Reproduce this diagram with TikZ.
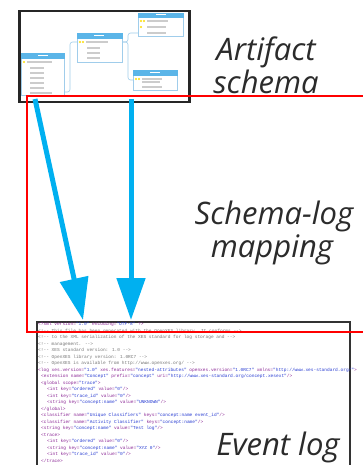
\documentclass[tikz,border=0pt]{standalone}
\usepackage{fontspec}
\usetikzlibrary{arrows.meta}
\newfontfamily\labelfont{Open Sans}
\newfontfamily\xmlfont{Liberation Mono}

\definecolor{flowblue}{RGB}{0,176,240}
\definecolor{tablehead}{RGB}{91,181,232}
\definecolor{tableline}{RGB}{160,205,235}
\definecolor{labelgray}{RGB}{43,43,43}
\definecolor{xmltag}{RGB}{140,40,150}
\definecolor{xmlval}{RGB}{40,60,210}
\definecolor{xmlcom}{RGB}{120,120,120}

\newcommand{\xtag}[1]{\textcolor{xmltag}{#1}}
\newcommand{\xval}[1]{\textcolor{xmlval}{#1}}
\newcommand{\xcom}[1]{\textcolor{xmlcom}{#1}}

\begin{document}
\begin{tikzpicture}[x=1pt,y=-1pt,
  lbl/.style={anchor=base,inner sep=0pt,text=labelgray,font=\labelfont\itshape\fontsize{31}{33}\selectfont},
  xmlline/.style={anchor=base west,inner sep=0pt,font=\xmlfont\fontsize{4.5}{6.5}\selectfont},
  headbox/.style={fill=tablehead,draw=tablehead,line width=0.4},
  bodybox/.style={fill=white,draw=tableline,line width=0.5},
  rowtext/.style={gray!40,line width=1.1},
  keyicon/.style={fill=yellow!80!orange,draw=none},
  link/.style={tableline,line width=0.6,rounded corners=2.5},
  flow/.style={flowblue,line width=5,-{Triangle[length=42pt,width=28pt]}}]
\useasboundingbox (0,0) rectangle (363,465);
%\draw [help lines,black!20!white] (0,0) grid[step=20] (363,465);

% artifact schema (thumbnail)
\node[draw=black!85,line width=2.5,fill=white,minimum width=170,minimum height=91,inner sep=0pt,anchor=north west] (schema) at (18,10) {};

\draw[link] (64,92) -| (70,42) -- (77,42);
\draw[link] (122,42) -| (128,33) -- (138,33);
\draw[link] (122,42) -| (128,80) -- (133,80);

% table A
\draw[bodybox] (21,58) rectangle (64,95);
\draw[headbox] (21,53) rectangle (64,58);
\draw[white,line width=1] (38,55.5) -- (48,55.5);
\fill[keyicon] (24,62) circle (1.2);
\draw[rowtext] (27,62) -- (52,62);
\foreach \y in {68,73,78,83,88} \draw[rowtext] (30,\y) -- (44,\y);
\draw[rowtext] (30,93) -- (52,93);

% table B
\draw[bodybox] (77,38) rectangle (122,62);
\draw[headbox] (77,33) rectangle (122,38);
\draw[white,line width=1] (94,35.5) -- (104,35.5);
\fill[keyicon] (80,42) circle (1.2);
\fill[keyicon] (83,42) circle (1.2);
\draw[rowtext] (86,42) -- (108,42);
\foreach \y in {48,53,58} \draw[rowtext] (87,\y) -- (100,\y);

% table C
\draw[bodybox] (138,17) rectangle (183,36);
\draw[headbox] (138,13) rectangle (183,17);
\draw[white,line width=1] (156,15) -- (166,15);
\fill[keyicon] (141,21) circle (1.2);
\fill[keyicon] (144,21) circle (1.2);
\draw[rowtext] (147,21) -- (168,21);
\fill[keyicon] (141,27) circle (1.2);
\draw[rowtext] (147,27) -- (166,27);
\draw[rowtext] (147,33) -- (166,33);

% table D
\draw[bodybox] (133,75) rectangle (177,90);
\draw[headbox] (133,70) rectangle (177,75);
\draw[white,line width=1] (150,72.5) -- (160,72.5);
\fill[keyicon] (136,79) circle (1.2);
\fill[keyicon] (139,79) circle (1.2);
\draw[rowtext] (142,79) -- (162,79);
\draw[rowtext] (142,82) -- (160,82);
\draw[rowtext] (142,87) -- (162,87);

% event log (XES file)
\node[draw=black!80,line width=2,fill=white,minimum width=313,minimum height=170,inner sep=0pt,anchor=north west] (evlog) at (36,321) {};

\node[xmlline] (x1) at (38,325.5) {\xtag{<?xml version=}\xval{"1.0"} \xtag{encoding=}\xval{"UTF-8"} \xtag{?>}};
\node[xmlline] (x2) at (38,332) {\xcom{<!-{}- This file has been generated with the OpenXES library. It conforms -{}->}};
\node[xmlline] (x3) at (38,338.5) {\xcom{<!-{}- to the XML serialization of the XES standard for log storage and -{}->}};
\node[xmlline] (x4) at (38,345) {\xcom{<!-{}- management. -{}->}};
\node[xmlline] (x5) at (38,351.5) {\xcom{<!-{}- XES standard version: 1.0 -{}->}};
\node[xmlline] (x6) at (38,358) {\xcom{<!-{}- OpenXES library version: 1.0RC7 -{}->}};
\node[xmlline] (x7) at (38,364.5) {\xcom{<!-{}- OpenXES is available from http://www.openxes.org/ -{}->}};
\node[xmlline] (x8) at (38,371) {\xtag{<log xes.version=}\xval{"1.0"} \xtag{xes.features=}\xval{"nested-attributes"} \xtag{openxes.version=}\xval{"1.0RC7"} \xtag{xmlns=}\xval{"http://www.xes-standard.org/"}\xtag{>}};
\node[xmlline] (x9) at (41,377.5) {\xtag{<extension name=}\xval{"Concept"} \xtag{prefix=}\xval{"concept"} \xtag{uri=}\xval{"http://www.xes-standard.org/concept.xesext"}\xtag{/>}};
\node[xmlline] (x10) at (41,384) {\xtag{<global scope=}\xval{"trace"}\xtag{>}};
\node[xmlline] (x11) at (47,390.5) {\xtag{<int key=}\xval{"ordered"} \xtag{value=}\xval{"0"}\xtag{/>}};
\node[xmlline] (x12) at (47,397) {\xtag{<int key=}\xval{"trace\_id"} \xtag{value=}\xval{"0"}\xtag{/>}};
\node[xmlline] (x13) at (47,403.5) {\xtag{<string key=}\xval{"concept:name"} \xtag{value=}\xval{"UNKNOWN"}\xtag{/>}};
\node[xmlline] (x14) at (41,410) {\xtag{</global>}};
\node[xmlline] (x15) at (41,416.5) {\xtag{<classifier name=}\xval{"Unique Classifiers"} \xtag{keys=}\xval{"concept:name event\_id"}\xtag{/>}};
\node[xmlline] (x16) at (41,423) {\xtag{<classifier name=}\xval{"Activity Classifier"} \xtag{keys=}\xval{"concept:name"}\xtag{/>}};
\node[xmlline] (x17) at (41,429.5) {\xtag{<string key=}\xval{"concept:name"} \xtag{value=}\xval{"Test log"}\xtag{/>}};
\node[xmlline] (x18) at (41,436) {\xtag{<trace>}};
\node[xmlline] (x19) at (47,442.5) {\xtag{<int key=}\xval{"ordered"} \xtag{value=}\xval{"0"}\xtag{/>}};
\node[xmlline] (x20) at (47,449) {\xtag{<string key=}\xval{"concept:name"} \xtag{value=}\xval{"XYZ 0"}\xtag{/>}};
\node[xmlline] (x21) at (47,455.5) {\xtag{<int key=}\xval{"trace\_id"} \xtag{value=}\xval{"0"}\xtag{/>}};
\node[xmlline] (x22) at (41,462) {\xtag{</trace>}};

% mapping frame
\draw[red,line width=1.6] (27,96) rectangle (375,332);

% labels
\node[lbl] (art) at (266,61) {Artifact};
\node[lbl] (sch) at (266,93.5) {schema};
\node[lbl] (slm) at (274,224) {Schema-log};
\node[lbl] (map) at (272,257) {mapping};
\node[lbl] (evl) at (278,455) {Event log};

% arrows
\coordinate (a1s) at (35,99);
\coordinate (a1e) at (83,320);
\coordinate (a2s) at (131,99);
\coordinate (a2e) at (131,320);
\draw[flow] (a1s) -- (a1e);
\draw[flow] (a2s) -- (a2e);

\end{tikzpicture}
\end{document}
